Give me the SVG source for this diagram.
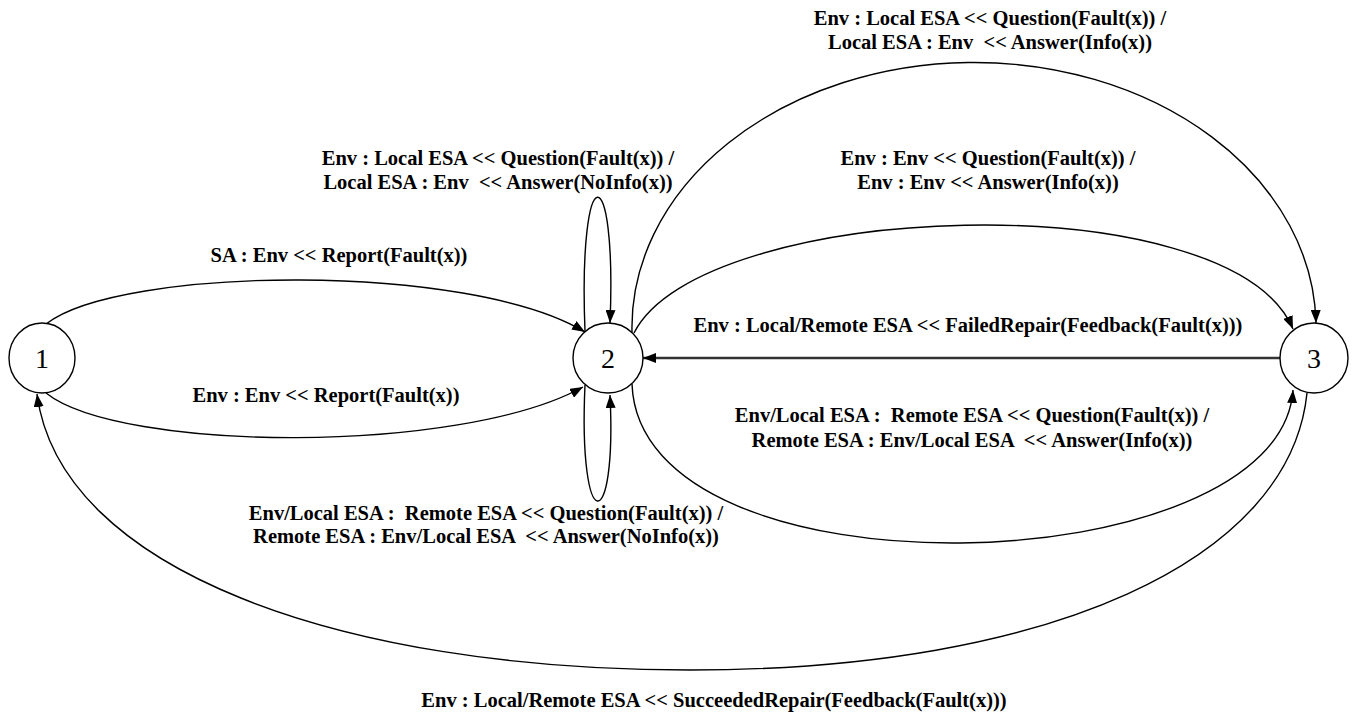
<svg xmlns="http://www.w3.org/2000/svg" width="1357" height="712" viewBox="0 0 1357 712">
  <style>
    .node { fill: #ffffff; stroke: #000000; stroke-width: 1.4; }
    .node-label { font-family: "Liberation Serif", "Times New Roman", serif; font-size: 28px; fill: #000000; text-anchor: middle; }
    .edge { fill: none; stroke: #000000; stroke-width: 1.4; marker-end: url(#arrow); }
    .edge-heavy { fill: none; stroke: #333333; stroke-width: 2.4; marker-end: url(#arrow); }
    .edge-label { font-family: "Liberation Serif", "Times New Roman", serif; font-size: 20.5px; font-weight: bold; fill: #000000; text-anchor: middle; white-space: pre; }
  </style>
  <defs>
    <marker id="arrow" markerWidth="13" markerHeight="10" refX="13" refY="5" orient="auto" markerUnits="userSpaceOnUse">
      <path d="M0,0 L13,5 L0,10 z" fill="#000000"/>
    </marker>
  </defs>
  <rect width="1357" height="712" fill="#ffffff"/>

  <!-- transitions -->
  <g id="edges">
    <!-- 1 -> 2, upper -->
    <path class="edge" d="M46,324 C120,266 470,262 585,332"/>
    <!-- 1 -> 2, lower -->
    <path class="edge" d="M46,393 C120,452 460,455 583,387"/>
    <!-- 2 -> 2, upper loop -->
    <path class="edge" d="M585,331 C578,154 617,154 610,323"/>
    <!-- 2 -> 2, lower loop -->
    <path class="edge" d="M585,385 C578,538 617,538 610,395"/>
    <!-- 2 -> 3, outer upper arc -->
    <path class="edge" d="M632,332 A342,265 0 0 1 1316,323"/>
    <!-- 2 -> 3, inner upper arc -->
    <path class="edge" d="M634,333 C700,200 1230,180 1293,329"/>
    <!-- 3 -> 2, straight -->
    <path class="edge-heavy" d="M1280,358 L643,358"/>
    <!-- 2 -> 3, lower arc -->
    <path class="edge" d="M632,384 C640,605 1280,585 1293,390"/>
    <!-- 3 -> 1, outer lower arc -->
    <path class="edge" d="M1307,393 C1290,560 1050,670 690,670 C340,670 60,570 37,394"/>
  </g>

  <!-- transition labels -->
  <g id="edge-labels">
    <text class="edge-label" x="339" y="262">SA : Env &lt;&lt; Report(Fault(x))</text>
    <text class="edge-label" x="326" y="402">Env : Env &lt;&lt; Report(Fault(x))</text>
    <text class="edge-label" x="498" y="165">Env : Local ESA &lt;&lt; Question(Fault(x)) /</text>
    <text class="edge-label" x="498" y="189">Local ESA : Env  &lt;&lt; Answer(NoInfo(x))</text>
    <text class="edge-label" x="486" y="520">Env/Local ESA :  Remote ESA &lt;&lt; Question(Fault(x)) /</text>
    <text class="edge-label" x="486" y="543">Remote ESA : Env/Local ESA  &lt;&lt; Answer(NoInfo(x))</text>
    <text class="edge-label" x="990" y="25">Env : Local ESA &lt;&lt; Question(Fault(x)) /</text>
    <text class="edge-label" x="990" y="49">Local ESA : Env  &lt;&lt; Answer(Info(x))</text>
    <text class="edge-label" x="988" y="165">Env : Env &lt;&lt; Question(Fault(x)) /</text>
    <text class="edge-label" x="988" y="189">Env : Env &lt;&lt; Answer(Info(x))</text>
    <text class="edge-label" x="968" y="332">Env : Local/Remote ESA &lt;&lt; FailedRepair(Feedback(Fault(x)))</text>
    <text class="edge-label" x="972" y="422">Env/Local ESA :  Remote ESA &lt;&lt; Question(Fault(x)) /</text>
    <text class="edge-label" x="972" y="447">Remote ESA : Env/Local ESA  &lt;&lt; Answer(Info(x))</text>
    <text class="edge-label" x="714" y="707">Env : Local/Remote ESA &lt;&lt; SucceededRepair(Feedback(Fault(x)))</text>
  </g>

  <!-- states -->
  <g id="node-1">
    <ellipse class="node" cx="42" cy="358" rx="33" ry="35"/>
    <text class="node-label" x="42" y="368">1</text>
  </g>
  <g id="node-2">
    <ellipse class="node" cx="608" cy="358" rx="35" ry="35"/>
    <text class="node-label" x="608" y="368">2</text>
  </g>
  <g id="node-3">
    <ellipse class="node" cx="1314" cy="358" rx="34" ry="35"/>
    <text class="node-label" x="1314" y="368">3</text>
  </g>
</svg>
